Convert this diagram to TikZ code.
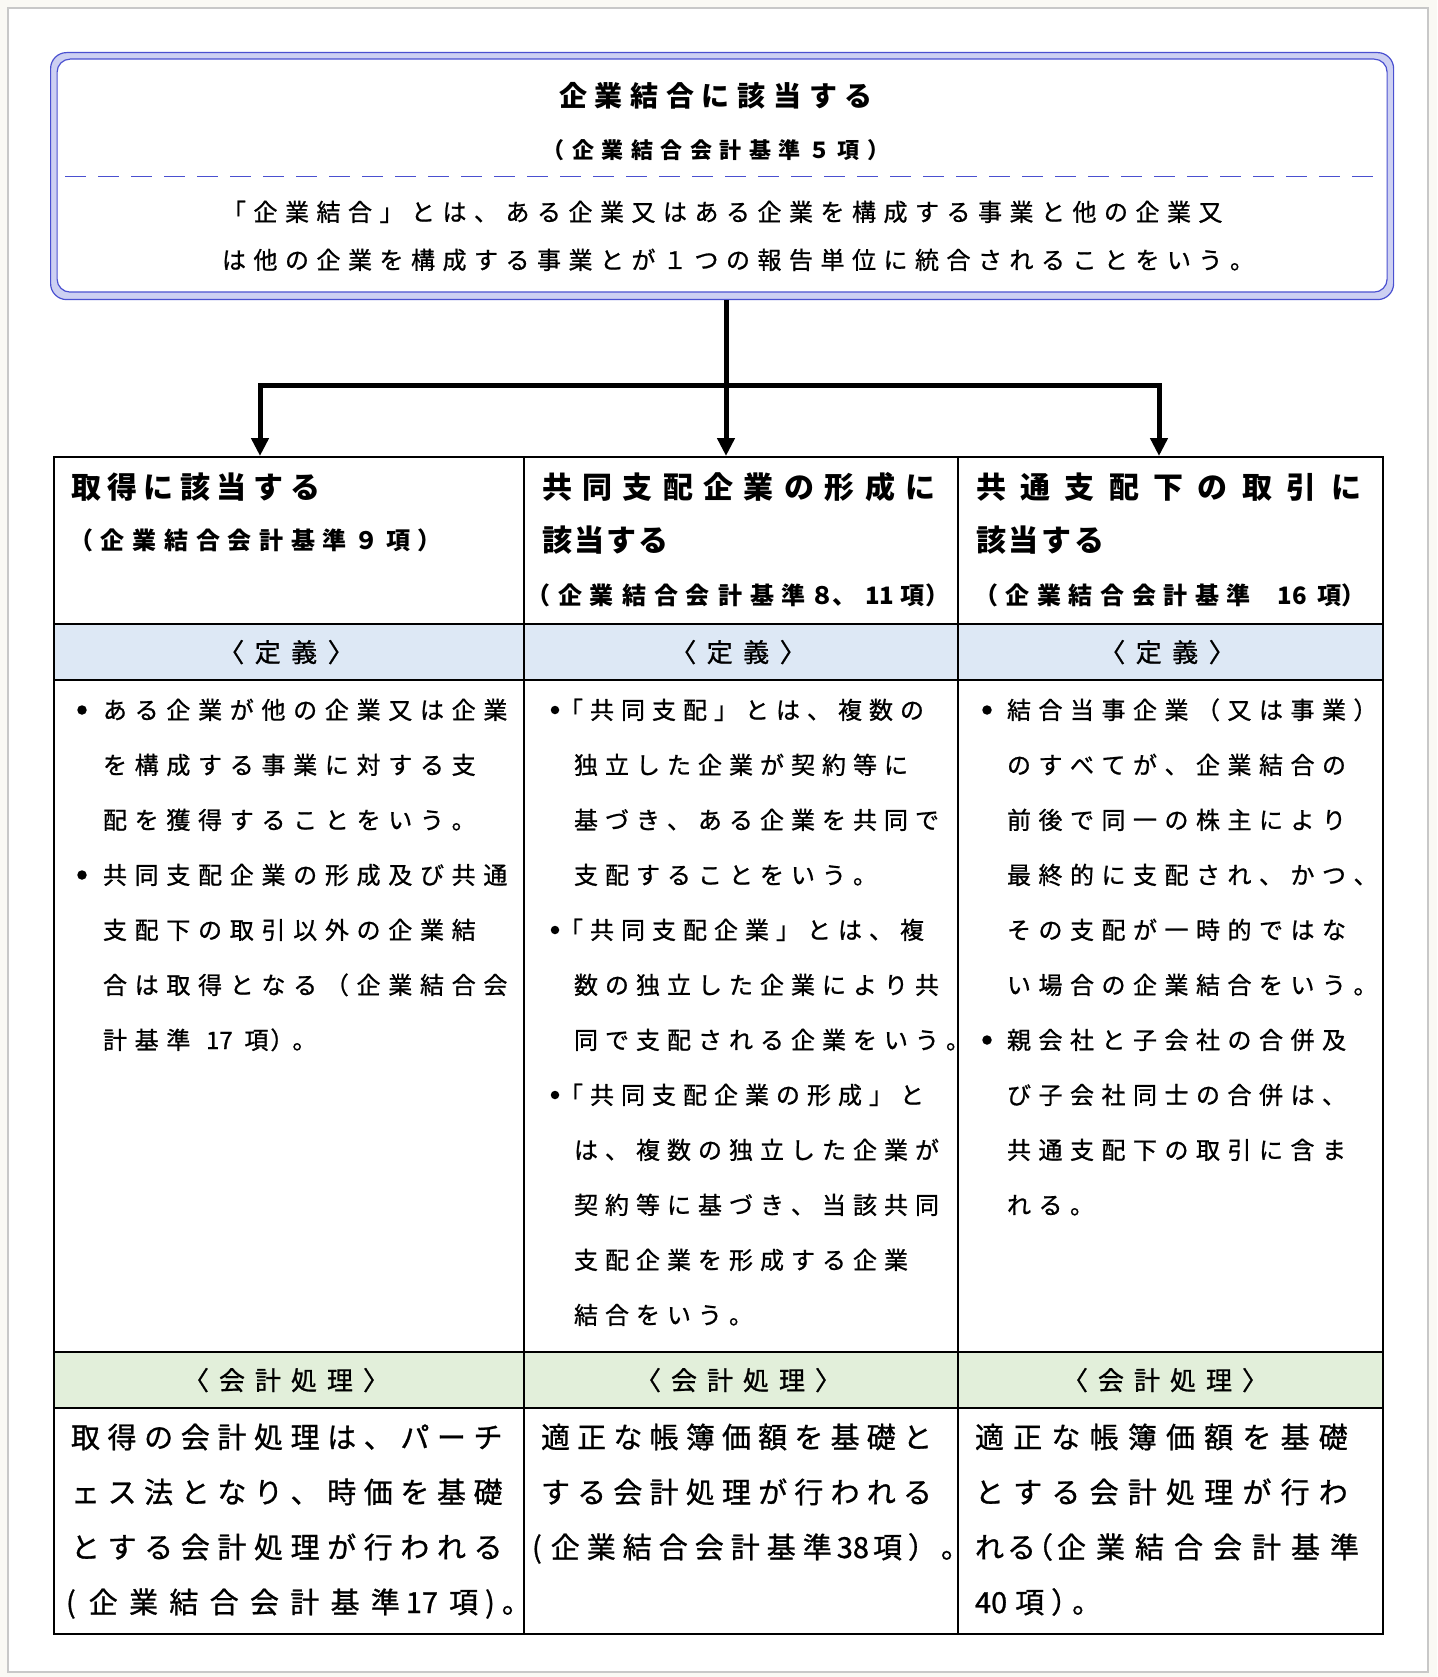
\documentclass[tikz,border=0pt]{standalone}
\usepackage{fontspec}
\usetikzlibrary{arrows.meta}
\newfontfamily\jp{Noto Sans CJK JP}
\newfontfamily\jpr[FakeBold=0.9]{Noto Sans CJK JP}
\definecolor{pagebg}{HTML}{FAF9F4}
\definecolor{panelline}{HTML}{C8C8C8}
\definecolor{bblue}{HTML}{4A50D0}
\definecolor{lav}{HTML}{CDD0F2}
\definecolor{defbg}{HTML}{DDE8F5}
\definecolor{accbg}{HTML}{E2EFDA}
\makeatletter
\newdimen\jtgap
\def\jt@stop{}
\def\jt@stopm{\jt@stop}
\def\jt#1#2{\begingroup\jtgap=#1pt\relax\jt@first#2\jt@stop\endgroup}
\def\jt@first#1{#1\jt@next}
\def\jt@next#1{\def\jt@arg{#1}\ifx\jt@arg\jt@stopm\else\kern\jtgap#1\expandafter\jt@next\fi}
\makeatother
\tikzset{
  tx/.style={anchor=base west, inner sep=0pt, outer sep=0pt},
  tc/.style={anchor=base, inner sep=0pt, outer sep=0pt},
  f24/.style={font={\jpr\fontsize{24}{24}\selectfont}},
  f26/.style={font={\jpr\fontsize{26}{26}\selectfont}},
  f29/.style={font={\jpr\fontsize{29}{29}\selectfont}},
  fB22/.style={font={\jp\bfseries\fontsize{22}{22}\selectfont}},
  fB24/.style={font={\jp\bfseries\fontsize{24}{24}\selectfont}},
  fB28/.style={font={\jp\bfseries\fontsize{28}{28}\selectfont}},
  fB30/.style={font={\jp\bfseries\fontsize{30}{30}\selectfont}},
  cell/.style={draw=black, line width=1.3pt, inner sep=0pt, outer sep=0pt, anchor=north west},
  bul/.style={circle, fill=black, inner sep=0pt, minimum size=9.5pt},
  conn/.style={draw=black, line width=5pt},
  arr/.style={-{Triangle[width=17pt,length=18pt]}},
}
\begin{document}
\begin{tikzpicture}[x=1pt,y=-1pt]
\useasboundingbox (0,0) rectangle (1437,1677);
\fill[pagebg] (0,0) rectangle (1437,1677);
\draw[panelline, fill=white, line width=1.5pt] (8,8) rectangle (1428,1672);

% top box
\node[draw=bblue, fill=lav, line width=1.2pt, rounded corners=16pt, inner sep=0pt, anchor=north west,
      minimum width=1343pt, minimum height=247pt] (topbox) at (50,52) {};
\node[draw=bblue, fill=white, line width=1.2pt, rounded corners=13pt, inner sep=0pt, anchor=north west,
      minimum width=1330pt, minimum height=233pt] (topin) at (56.5,58.5) {};
\draw[bblue, line width=1pt, dash pattern=on 21pt off 12pt] (65,177) -- (1376,177);
\node[tc, fB28] (ttl) at (716,106.6) {\jt{7.7}{企業結合に該当する}};
\node[tc, fB22] (tsub) at (716,158.4) {\jt{7.5}{（企業結合会計基準５項）}};
\node[tx, f24] (tb1) at (222,221) {\jt{7.5}{「企業結合」とは、ある企業又はある企業を構成する事業と他の企業又}};
\node[tx, f24] (tb2) at (222,269) {\jt{7.5}{は他の企業を構成する事業とが１つの報告単位に統合されることをいう。}};

% table cells
\node[cell, minimum width=470pt, minimum height=167pt] (h1) at (54,457) {};
\node[cell, minimum width=434pt, minimum height=167pt] (h2) at (524,457) {};
\node[cell, minimum width=425pt, minimum height=167pt] (h3) at (958,457) {};
\node[cell, fill=defbg, minimum width=470pt, minimum height=56pt] (d1) at (54,624) {};
\node[cell, fill=defbg, minimum width=434pt, minimum height=56pt] (d2) at (524,624) {};
\node[cell, fill=defbg, minimum width=425pt, minimum height=56pt] (d3) at (958,624) {};
\node[cell, minimum width=470pt, minimum height=672pt] (b1) at (54,680) {};
\node[cell, minimum width=434pt, minimum height=672pt] (b2) at (524,680) {};
\node[cell, minimum width=425pt, minimum height=672pt] (b3) at (958,680) {};
\node[cell, fill=accbg, minimum width=470pt, minimum height=56pt] (p1) at (54,1352) {};
\node[cell, fill=accbg, minimum width=434pt, minimum height=56pt] (p2) at (524,1352) {};
\node[cell, fill=accbg, minimum width=425pt, minimum height=56pt] (p3) at (958,1352) {};
\node[cell, minimum width=470pt, minimum height=226pt] (q1) at (54,1408) {};
\node[cell, minimum width=434pt, minimum height=226pt] (q2) at (524,1408) {};
\node[cell, minimum width=425pt, minimum height=226pt] (q3) at (958,1408) {};

% connectors
\coordinate (jn) at (726,385);
\coordinate (a1) at (260,456);
\coordinate (a2) at (726,456);
\coordinate (a3) at (1159,456);
\draw[conn] (topbox.south -| jn) -- (jn);
\draw[conn, arr] (jn) -| (a1);
\draw[conn, arr] (jn) -- (a2);
\draw[conn, arr] (jn) -| (a3);

% headers
\node[tx, fB30] (h1a) at (71,498.4) {\jt{6.5}{取得に該当する}};
\node[tx, fB24] (h1b) at (69.3,549) {\jt{7.7}{（企業結合会計基準９項）}};
\node[tx, fB30] (h2a) at (542,498.4) {\jt{10.4}{共同支配企業の形成に}};
\node[tx, fB30] (h2b) at (542,551.4) {\jt{2.2}{該当する}};
\node[tx, fB24] (h2c) at (526,604) {\jt{8}{（企業結合会計基準}\kern4pt ８\kern-2pt 、\kern9pt 11\kern6pt 項\kern1pt ）};
\node[tx, fB30] (h3a) at (976,498.4) {\jt{14.4}{共通支配下の取引に}};
\node[tx, fB30] (h3b) at (976,551.4) {\jt{2.7}{該当する}};
\node[tx, fB24] (h3c) at (974,604) {\jt{7.6}{（企業結合会計基準}\kern27pt 16\kern10pt 項\kern0pt ）};

% row labels
\node[tc, f26] (d1t) at (286,662) {\jt{10.5}{〈定義〉}};
\node[tc, f26] (d2t) at (738,662) {\jt{10.5}{〈定義〉}};
\node[tc, f26] (d3t) at (1167,662) {\jt{10.5}{〈定義〉}};
\node[tc, f26] (p1t) at (286,1390) {\jt{10}{〈会計処理〉}};
\node[tc, f26] (p2t) at (738,1390) {\jt{10}{〈会計処理〉}};
\node[tc, f26] (p3t) at (1165,1390) {\jt{10}{〈会計処理〉}};

% column 1 body
\node[bul] (u11) at (82,710) {};
\node[bul] (u12) at (82,875) {};
\node[tx, f24] (c1l1) at (103,719) {\jt{7.7}{ある企業が他の企業又は企業}};
\node[tx, f24] (c1l2) at (103,774) {\jt{7.7}{を構成する事業に対する支}};
\node[tx, f24] (c1l3) at (103,829) {\jt{7.7}{配を獲得することをいう。}};
\node[tx, f24] (c1l4) at (103,884) {\jt{7.7}{共同支配企業の形成及び共通}};
\node[tx, f24] (c1l5) at (103,939) {\jt{7.7}{支配下の取引以外の企業結}};
\node[tx, f24] (c1l6) at (103,994) {\jt{7.7}{合は取得となる（企業結合会}};
\node[tx, f24] (c1l7) at (103,1049) {\jt{7.7}{計基準{\kern8pt 17\kern4pt}項}\kern2pt ）\kern-2pt 。};

% column 2 body
\node[bul, minimum size=8.5pt] (u21) at (555,710) {};
\node[bul, minimum size=8.5pt] (u22) at (555,930) {};
\node[bul, minimum size=8.5pt] (u23) at (555,1095) {};
\node[tx, f24] (c2l1) at (559,719) {\jt{7}{「共同支配」とは、複数の}};
\node[tx, f24] (c2l2) at (574,774) {\jt{7}{独立した企業が契約等に}};
\node[tx, f24] (c2l3) at (574,829) {\jt{7}{基づき、ある企業を共同で}};
\node[tx, f24] (c2l4) at (574,884) {\jt{7}{支配することをいう。}};
\node[tx, f24] (c2l5) at (559,939) {\jt{7}{「共同支配企業」とは、複}};
\node[tx, f24] (c2l6) at (574,994) {\jt{7}{数の独立した企業により共}};
\node[tx, f24] (c2l7) at (574,1049) {\jt{7}{同で支配される企業をいう。}};
\node[tx, f24] (c2l8) at (559,1104) {\jt{7}{「共同支配企業の形成」と}};
\node[tx, f24] (c2l9) at (574,1159) {\jt{7}{は、複数の独立した企業が}};
\node[tx, f24] (c2l10) at (574,1214) {\jt{7}{契約等に基づき、当該共同}};
\node[tx, f24] (c2l11) at (574,1269) {\jt{7}{支配企業を形成する企業}};
\node[tx, f24] (c2l12) at (574,1324) {\jt{7}{結合をいう。}};

% column 3 body
\node[bul] (u31) at (987,710) {};
\node[bul] (u32) at (987,1040) {};
\node[tx, f24] (c3l1) at (1007,719) {\jt{7.5}{結合当事企業（又は事業）}};
\node[tx, f24] (c3l2) at (1007,774) {\jt{7.5}{のすべてが、企業結合の}};
\node[tx, f24] (c3l3) at (1007,829) {\jt{7.5}{前後で同一の株主により}};
\node[tx, f24] (c3l4) at (1007,884) {\jt{7.5}{最終的に支配され、かつ、}};
\node[tx, f24] (c3l5) at (1007,939) {\jt{7.5}{その支配が一時的ではな}};
\node[tx, f24] (c3l6) at (1007,994) {\jt{7.5}{い場合の企業結合をいう。}};
\node[tx, f24] (c3l7) at (1007,1049) {\jt{7.5}{親会社と子会社の合併及}};
\node[tx, f24] (c3l8) at (1007,1104) {\jt{7.5}{び子会社同士の合併は、}};
\node[tx, f24] (c3l9) at (1007,1159) {\jt{7.5}{共通支配下の取引に含ま}};
\node[tx, f24] (c3l10) at (1007,1214) {\jt{7.5}{れる。}};

% bottom texts
\node[tx, f29] (q1a) at (71,1448) {\jt{7.6}{取得の会計処理は、パーチ}};
\node[tx, f29] (q1b) at (71,1503) {\jt{7.6}{ェス法となり、時価を基礎}};
\node[tx, f29] (q1c) at (71,1558) {\jt{7.6}{とする会計処理が行われる}};
\node[tx, f29] (q1d) at (66,1613) {(\kern13pt\jt{11.3}{企業結合会計基準}\kern6pt 17\kern11pt 項\kern7pt )\kern7pt 。};
\node[tx, f29] (q2a) at (541,1448) {\jt{7.2}{適正な帳簿価額を基礎と}};
\node[tx, f29] (q2b) at (541,1503) {\jt{7.2}{する会計処理が行われる}};
\node[tx, f29] (q2c) at (532,1558) {(\kern9pt\jt{7}{企業結合会計基準}\kern5pt 38\kern4pt 項\kern6pt ）\kern4pt 。};
\node[tx, f29] (q3a) at (975,1448) {\jt{9.2}{適正な帳簿価額を基礎}};
\node[tx, f29] (q3b) at (975,1503) {\jt{9.2}{とする会計処理が行わ}};
\node[tx, f29] (q3c) at (975,1558) {\jt{3}{れる}\kern-12pt （\kern4pt\jt{10}{企業結合会計基準}};
\node[tx, f29] (q3d) at (975,1613) {40\kern8pt 項\kern7pt ）\kern-8pt 。};
\end{tikzpicture}
\end{document}
